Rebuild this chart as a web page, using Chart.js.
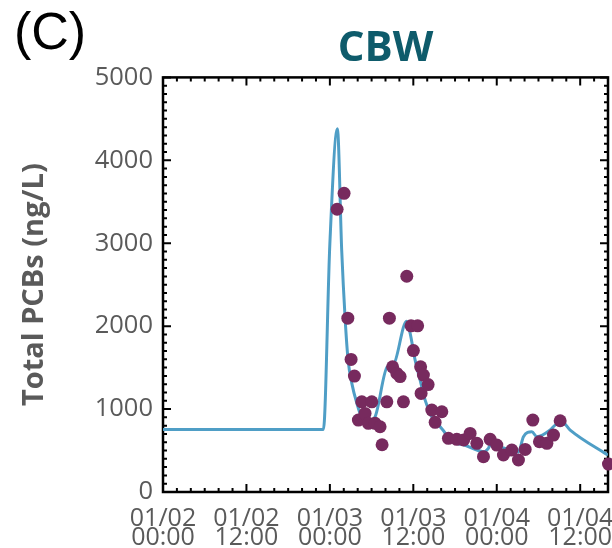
<!DOCTYPE html>
<html>
<head>
<meta charset="utf-8">
<script src="https://cdn.jsdelivr.net/npm/chart.js@4.4.1/dist/chart.umd.min.js"></script>
<style>
  body { margin: 0; background: #fff; }
  #wrap { position: relative; width: 612px; height: 548px; }
  #panel { position: absolute; left: 14px; top: 1px; font: 52px "Liberation Sans", Arial, sans-serif; color: #000; }
</style>
</head>
<body>
<div id="wrap">
  <canvas id="cbwChart" width="612" height="548"></canvas>
  <div id="panel">(C)</div>
</div>
<script>
// hours since 01/02 00:00
const modelHours = [0, 23.07, 24, 25.08, 25.7, 26.19, 26.62, 27.15, 27.87, 28.59, 29.8, 30.5, 32.27, 33.1, 35.04,
  35.54, 36.26, 36.98, 37.7, 38.66, 39.86, 40.58, 41.05, 43.2, 45.14, 46.09, 46.8, 47.05, 49.0, 51.12,
  51.84, 53.05, 53.77, 55.68, 56.4, 57.37, 58.56, 63.6, 64];
const modelValues = [755, 755, 3000, 4380, 2916, 2096, 1590, 1313, 1072, 904, 867, 907, 1510, 1530, 2060,
  1916, 1590, 1350, 1108, 907, 787, 710, 627, 570, 506, 486, 526, 566, 530, 482,
  666, 726, 666, 747, 807, 847, 747, 466, 446];

const obsHours = [25.04, 26.04, 26.58, 27.05, 27.53, 28.10, 28.59, 29.06, 29.54, 30.03, 30.50, 31.22, 31.51, 32.19,
  32.56, 33.02, 33.63, 34.10, 34.58, 35.06, 35.68, 36.62, 36.01, 37.05, 37.12, 37.45, 38.13, 38.66, 39.14,
  40.10, 41.05, 42.26, 43.24, 44.17, 45.14, 46.09, 47.05, 48.01, 48.96, 50.17, 51.12, 52.09, 53.19, 54.14,
  55.21, 56.16, 57.12, 64.07];
const obsValues = [3410, 3602, 2096, 1599, 1398, 867, 1088, 948, 828, 1088, 828, 787, 570, 1088,
  2096, 1510, 1430, 1392, 1088, 2602, 2004, 2004, 1705, 1510, 1189, 1410, 1295, 988, 840,
  968, 647, 635, 627, 707, 587, 426, 635, 566, 446, 506, 386, 514, 867, 606,
  587, 687, 859, 337];

const xTickHours = [0, 12, 24, 36, 48, 60];
const xTickLabels = [['01/02', '00:00'], ['01/02', '12:00'], ['01/03', '00:00'],
  ['01/03', '12:00'], ['01/04', '00:00'], ['01/04', '12:00']];

const grey = '#5a5a5a';

// box round the plot with inward ticks on all four sides
const boxTicks = {
  id: 'boxTicks',
  beforeDatasetsDraw(chart) {
    const { ctx, chartArea: a, scales: { x, y } } = chart;
    ctx.save();
    ctx.strokeStyle = '#000';
    ctx.lineWidth = 2;
    ctx.beginPath();
    for (let h = 0; h <= 64; h += 2) {
      const px = x.getPixelForValue(h);
      const len = h % 12 === 0 ? 8 : 4;
      ctx.moveTo(px, a.bottom); ctx.lineTo(px, a.bottom - len);
      ctx.moveTo(px, a.top); ctx.lineTo(px, a.top + len);
    }
    for (let v = 0; v <= 5000; v += 100) {
      const py = y.getPixelForValue(v);
      const len = v % 1000 === 0 ? 8 : 4;
      ctx.moveTo(a.left, py); ctx.lineTo(a.left + len, py);
      ctx.moveTo(a.right, py); ctx.lineTo(a.right - len, py);
    }
    ctx.stroke();
    ctx.lineWidth = 2.5;
    ctx.strokeRect(a.left, a.top, a.right - a.left, a.bottom - a.top);
    ctx.restore();
  }
};

new Chart(document.getElementById('cbwChart'), {
  type: 'scatter',
  data: {
    datasets: [{
      type: 'line',
      data: modelHours.map((h, i) => ({ x: h, y: modelValues[i] })),
      borderColor: '#4f9ec6',
      borderWidth: 3,
      pointRadius: 0,
      cubicInterpolationMode: 'monotone',
      order: 2
    }, {
      data: obsHours.map((h, i) => ({ x: h, y: obsValues[i] })),
      backgroundColor: '#772a5e',
      borderWidth: 0,
      pointRadius: 6.5,
      pointHoverRadius: 6.5,
      clip: false,
      order: 1
    }]
  },
  options: {
    responsive: false,
    animation: false,
    layout: { autoPadding: false, padding: { left: 0, right: 4, top: 0, bottom: 0 } },
    plugins: {
      legend: { display: false },
      tooltip: { enabled: false },
      title: {
        display: true,
        text: 'CBW',
        fullSize: false,
        color: '#0e5b6b',
        font: { family: 'Open Sans', size: 42, weight: 'bold', lineHeight: 1.2 },
        padding: { top: 24, bottom: 3 }
      }
    },
    scales: {
      x: {
        type: 'linear',
        min: 0,
        max: 64,
        grid: { display: false, drawTicks: false },
        border: { display: false },
        afterFit: s => { s.height = 56; s.paddingLeft = 0; s.paddingRight = 0; },
        ticks: {
          stepSize: 12,
          includeBounds: false,
          autoSkip: false,
          maxRotation: 0,
          padding: 17,
          color: grey,
          font: { family: 'Open Sans', size: 25, lineHeight: 0.78 },
          callback: v => xTickLabels[xTickHours.indexOf(v)]
        }
      },
      y: {
        min: 0,
        max: 5000,
        grid: { display: false, drawTicks: false },
        border: { display: false },
        afterFit: s => { s.width = 163; s.paddingTop = 0; s.paddingBottom = 0; },
        ticks: {
          stepSize: 1000,
          padding: 10,
          color: grey,
          font: { family: 'Open Sans', size: 25.5 },
          callback: v => String(v)
        },
        title: {
          display: true,
          text: 'Total PCBs (ng/L)',
          color: grey,
          font: { family: 'Open Sans', size: 29, weight: 'bold' },
          padding: { top: 17, bottom: 0 }
        }
      }
    }
  },
  plugins: [boxTicks]
});
</script>
</body>
</html>
